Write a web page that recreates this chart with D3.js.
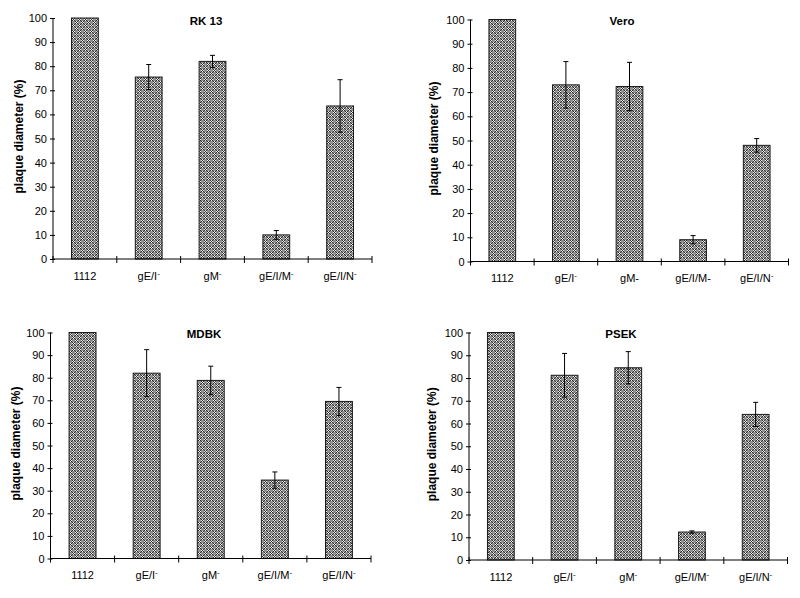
<!DOCTYPE html>
<html>
<head>
<meta charset="utf-8">
<script src="https://cdn.jsdelivr.net/npm/d3@7"></script>
<style>
  body { margin: 0; background: #fff; }
  svg { display: block; }
  text { font-family: "Liberation Sans", Arial, sans-serif; fill: #000; }
</style>
</head>
<body>
<svg id="chart" width="800" height="598"></svg>
<script>
// ---- data ----
const categories = ["1112", "gE/I-", "gM-", "gE/I/M-", "gE/I/N-"];
const yTicks = [0, 10, 20, 30, 40, 50, 60, 70, 80, 90, 100];
const yLabel = "plaque diameter (%)";

const titles = ["RK 13", "Vero", "MDBK", "PSEK"];

const rk13Values = [100, 75.5, 82, 10, 63.5];
const rk13Errors = [0, 5.2, 2.5, 1.8, 10.9];

const veroValues = [100, 73, 72.3, 9, 48];
const veroErrors = [0, 9.6, 10, 1.7, 2.8];

const mdbkValues = [100, 82, 78.8, 34.7, 69.5];
const mdbkErrors = [0, 10.4, 6.3, 3.6, 6.2];

const psekValues = [100, 81.2, 84.5, 12.3, 64];
const psekErrors = [0, 9.6, 7.1, 0.5, 5.3];

// whether the trailing "-" of each label is a superscript, per panel
const rk13Super = [false, true, true, true, true];
const veroSuper = [false, true, false, false, true];
const mdbkSuper = [false, true, true, true, true];
const psekSuper = [false, true, true, true, true];

// ---- layout ----
const panels = [
  { title: titles[0], values: rk13Values, errors: rk13Errors, sup: rk13Super,
    x0: 53, x1: 372, yTop: 18, yBot: 259, labX: 19, titleX: 206, titleY: 25 },
  { title: titles[1], values: veroValues, errors: veroErrors, sup: veroSuper,
    x0: 470.5, x1: 788.5, yTop: 19.5, yBot: 261.5, labX: 434, titleX: 622, titleY: 25 },
  { title: titles[2], values: mdbkValues, errors: mdbkErrors, sup: mdbkSuper,
    x0: 50.5, x1: 371, yTop: 332.5, yBot: 558.5, labX: 16, titleX: 204, titleY: 338 },
  { title: titles[3], values: psekValues, errors: psekErrors, sup: psekSuper,
    x0: 469, x1: 787.5, yTop: 332.5, yBot: 560, labX: 432, titleX: 621, titleY: 338 }
];

const svg = d3.select("#chart");

// dotted/checkered fill pattern
const defs = svg.append("defs");
const pat = defs.append("pattern")
  .attr("id", "checker").attr("patternUnits", "userSpaceOnUse")
  .attr("width", 6).attr("height", 6);
pat.append("rect").attr("width", 6).attr("height", 6).attr("fill", "#8e8e8e");
const cluster = (ox, oy) => {
  for (let i = 0; i < 3; i++) for (let j = 0; j < 3; j++) {
    pat.append("rect").attr("x", (ox + i) % 6).attr("y", (oy + j) % 6)
      .attr("width", 1).attr("height", 1)
      .attr("fill", (i + j) % 2 === 0 ? "#2e2e2e" : "#ececec");
  }
};
cluster(0, 0);
cluster(3, 3);

panels.forEach(p => {
  const g = svg.append("g");
  const x = d3.scaleBand().domain(categories).range([p.x0, p.x1]).paddingInner(0).paddingOuter(0);
  const y = d3.scaleLinear().domain([0, 100]).range([p.yBot, p.yTop]);
  const bw = x.bandwidth() * 0.42;

  // bars
  g.selectAll("rect.bar").data(categories).join("rect")
    .attr("class", "bar")
    .attr("x", d => x(d) + x.bandwidth() / 2 - bw / 2)
    .attr("y", (d, i) => y(p.values[i]))
    .attr("width", bw)
    .attr("height", (d, i) => y(0) - y(p.values[i]))
    .attr("fill", "url(#checker)")
    .attr("stroke", "#1a1a1a").attr("stroke-width", 1);

  // error bars
  const eb = g.selectAll("g.err").data(categories.map((c, i) => ({ c, v: p.values[i], e: p.errors[i] })).filter(d => d.e > 0))
    .join("g").attr("class", "err");
  eb.append("line")
    .attr("x1", d => x(d.c) + x.bandwidth() / 2).attr("x2", d => x(d.c) + x.bandwidth() / 2)
    .attr("y1", d => y(d.v + d.e)).attr("y2", d => y(d.v - d.e))
    .attr("stroke", "#000").attr("stroke-width", 1);
  [1, -1].forEach(s => {
    eb.append("line")
      .attr("x1", d => x(d.c) + x.bandwidth() / 2 - 2.5).attr("x2", d => x(d.c) + x.bandwidth() / 2 + 2.5)
      .attr("y1", d => y(d.v + s * d.e)).attr("y2", d => y(d.v + s * d.e))
      .attr("stroke", "#000").attr("stroke-width", 1);
  });

  // y axis
  const yAxis = d3.axisLeft(y).tickValues(yTicks).tickSize(3).tickPadding(3);
  const ya = g.append("g").attr("transform", `translate(${p.x0},0)`).call(yAxis);
  ya.select(".domain").attr("stroke", "#000").attr("d", `M-0,${p.yBot}V${p.yTop}`);
  ya.selectAll(".tick line").attr("x1", 2).attr("stroke", "#000");
  ya.selectAll("text").style("font-size", "11px").attr("fill", "#000");

  // x axis
  g.append("line").attr("x1", p.x0).attr("x2", p.x1).attr("y1", p.yBot).attr("y2", p.yBot)
    .attr("stroke", "#000").attr("stroke-width", 1);
  const bounds = categories.map(c => x(c)).concat([p.x1]);
  g.selectAll("line.xt").data(bounds).join("line").attr("class", "xt")
    .attr("x1", d => d).attr("x2", d => d)
    .attr("y1", p.yBot - 3).attr("y2", p.yBot + 4)
    .attr("stroke", "#000").attr("stroke-width", 1);

  // x labels
  categories.forEach((c, i) => {
    const t = g.append("text")
      .attr("x", x(c) + x.bandwidth() / 2)
      .attr("y", p.yBot + 20.5)
      .attr("text-anchor", "middle")
      .style("font-size", "11px");
    if (p.sup[i] && c.endsWith("-")) {
      t.append("tspan").text(c.slice(0, -1));
      t.append("tspan").text("-").attr("dy", -4).style("font-size", "8px");
    } else {
      t.text(c);
    }
  });

  // y label
  g.append("text")
    .attr("transform", `translate(${p.labX},${(p.yTop + p.yBot) / 2 - 2}) rotate(-90)`)
    .attr("text-anchor", "middle").attr("dy", "0.35em")
    .style("font-size", "12px").style("font-weight", "bold")
    .text(yLabel);

  // title
  g.append("text")
    .attr("x", p.titleX).attr("y", p.titleY)
    .attr("text-anchor", "middle")
    .style("font-size", "11.5px").style("font-weight", "bold")
    .text(p.title);
});
</script>
</body>
</html>
